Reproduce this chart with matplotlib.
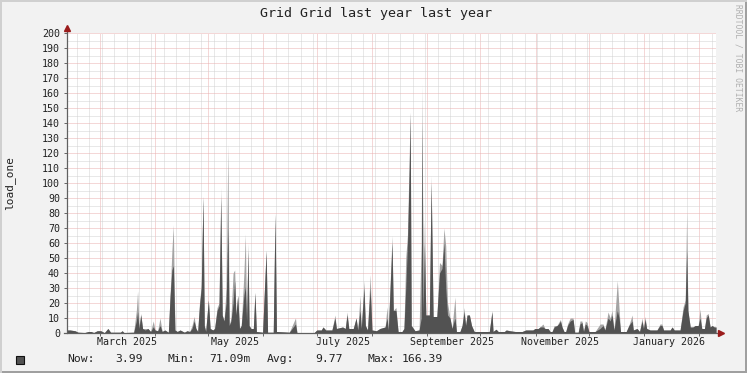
import numpy as np
import matplotlib
matplotlib.use("Agg")
import matplotlib.pyplot as plt
import matplotlib.dates as mdates
from matplotlib.ticker import NullFormatter, MultipleLocator
from matplotlib.patches import Rectangle

plt.rcParams['font.family'] = ['DejaVu Sans Mono']

# ---- data ----
title = "Grid Grid last year last year"
y_label = "load_one"
start = np.datetime64('2025-02-10T12:00')
end = np.datetime64('2026-02-10T12:00')

# days after start, average (dark) and peak (faded) values
days = [0, 1.7, 4.5, 6.2, 10, 12, 13.5, 15, 17, 19, 21, 23, 24.5, 30, 31, 32, 37.5,
        39, 39.7, 40.5, 41.5, 42.5, 44, 45.5, 47, 48.5, 49.5, 51, 52.3, 53.5, 55, 57,
        58, 59, 59.8, 60.7, 62, 63.6, 66, 67.5, 69, 70.3, 71.5, 72.5, 73.5, 74.5, 75.5,
        76.5, 77.2, 78, 79.5, 80.5, 82, 83, 84.4, 85.5, 86.5, 87.3, 88.3, 89.5, 90.5,
        91.2, 92.2, 93.4, 94.3, 95, 96, 97, 98, 99.5, 100.3, 101, 101.8, 102.4, 103.5,
        104.8, 105.7, 106.5, 110, 112, 112.8, 116, 117, 117.8, 125, 128.5, 129.3, 139,
        140.5, 143, 144, 145.5, 149, 150.7, 151.5, 155, 156.5, 157.5, 158.5, 161, 162.6,
        163.5, 164.8, 165.5, 167, 167.8, 169, 170.5, 171.5, 174, 176, 178.9, 180, 180.7,
        182.8, 183.5, 185, 186.2, 188.4, 189.5, 190.5, 191.5, 192.5, 193, 193.6, 195.7,
        198, 199.2, 199.7, 200.3, 201, 201.8, 203.8, 204.8, 205.9, 208, 209.5, 210.9,
        212, 213, 214, 215.4, 216.5, 218.2, 219, 221, 222.2, 223.3, 224.2, 225, 226.3,
        227.5, 229, 237.5, 239, 239.6, 241.3, 242.5, 246, 247, 249, 252, 256, 258, 262,
        263.2, 265, 266, 267.7, 268.8, 270.5, 271.7, 272.8, 274, 275.6, 276.5, 277.5,
        278.4, 279.5, 280.5, 281.5, 283, 284.6, 285.5, 287.5, 288.5, 289.6, 290.5, 291.5,
        292.5, 293.5, 297, 299.8, 301.5, 302.5, 304.3, 305.5, 306.5, 307.6, 309.5, 310.5,
        311.3, 314.5, 316, 317.8, 318.5, 320.6, 322, 323.4, 324.2, 325.1, 326, 327.9,
        331.8, 333.5, 334.6, 335.5, 339.2, 340.3, 341.5, 344.8, 346.5, 347.7, 348.5,
        349.2, 350.5, 352, 353.3, 355, 356, 357, 358.5, 359.5, 360.6, 361.7, 362.8, 364,
        365]
load_avg = [2, 2, 1.5, 0.5, 0.3, 1, 1, 0.3, 1.5, 1.5, 0.2, 3, 0.5, 0.5, 1.5, 0.3, 0.5,
            8, 14, 3, 12, 3, 2, 3, 1, 4, 2, 1.5, 5, 1, 2, 0.5,
            25, 42, 45, 2, 1, 2, 0.5, 1.5, 1, 3, 8, 3, 1, 18, 30,
            91, 5, 1, 22, 3, 2, 3, 15, 18, 90, 12, 8, 20, 70,
            5, 8, 20, 35, 12, 25, 3, 5, 25, 31, 8, 55, 5, 3,
            3, 27, 1, 0.5, 55, 0.5, 0.5, 79, 1, 0.5, 6, 0.3, 0.3,
            2, 2, 4, 2, 2, 10, 3, 4, 3, 12, 3, 3, 10,
            2, 15, 3, 30, 5, 2, 30, 2, 1.5, 3, 4, 10, 2,
            60, 15, 15, 1, 1, 3, 30, 60, 110, 147, 5, 1.5,
            2, 10, 140, 13, 60, 12, 12, 100, 11, 11, 40, 43,
            60, 30, 12, 10, 3, 10, 1, 1, 5, 14, 5, 12, 12,
            5, 1, 1, 14, 1, 2.5, 1, 1, 2, 1.5, 1, 1, 2, 2,
            3, 3, 4, 4, 3, 3, 1, 1, 4, 5, 6, 8,
            4, 1, 1, 5, 8, 9, 0.5, 0.5, 6, 7, 1, 6,
            5, 1, 1, 3, 5, 2, 10, 8, 12, 2, 15, 10,
            1, 1, 5, 8, 2, 3, 1, 8, 3, 9, 3, 2,
            2, 5, 5, 2, 2, 4, 2, 2, 15, 20, 55,
            15, 4, 4, 5, 5, 10, 3, 3, 10, 12, 4, 5, 4,
            3.99]
load_peak = [2, 2, 1.5, 0.5, 0.3, 1, 1, 0.3, 1.5, 1.5, 0.2, 3, 0.5, 0.5, 1.5, 0.3, 0.5,
             15, 28, 5, 13, 3, 3, 3, 1, 8, 2, 1.5, 10, 1, 2, 0.5,
             26, 55, 72, 2, 1, 2, 0.5, 1.5, 1, 5, 11, 3, 1, 20, 32,
             91, 5, 1, 22, 3, 2, 3, 17, 20, 97, 12, 8, 30, 126,
             5, 10, 40, 42, 12, 25, 3, 5, 40, 66, 8, 60, 5, 3,
             3, 27, 1, 0.5, 55, 0.5, 0.5, 80, 1, 0.5, 10, 0.3, 0.3,
             2, 2, 4, 2, 2, 12, 3, 4, 3, 14, 3, 3, 10,
             2, 25, 3, 35, 5, 2, 39, 2, 1.5, 3, 4, 17.5, 2,
             65, 15, 17, 1, 1, 3, 50, 66, 120, 147, 5, 1.5,
             2, 60, 166, 13, 75, 12, 12, 105, 11, 11, 47, 45,
             70, 58, 20, 10, 3, 24, 1, 1, 5, 17, 5, 12, 12,
             5, 1, 1, 15, 1, 2.5, 1, 1, 2, 1.5, 1, 1, 2, 2,
             3, 3, 4, 6, 3, 3, 1, 1, 5, 5, 7, 9,
             4, 1, 1, 6, 10, 10, 0.5, 0.5, 8, 8, 1, 8,
             7, 1, 1, 6, 6, 2, 14, 10, 15, 2, 35, 16,
             1, 1, 5, 12, 2, 3, 1, 10, 3, 11, 3, 2,
             2, 6, 6, 2, 2, 4, 2, 2, 17.5, 22, 80,
             15, 4, 4, 5, 5, 16, 3, 3, 12, 13, 4, 5, 4,
             3.99]

month_labels = ['March 2025', 'May 2025', 'July 2025', 'September 2025',
                'November 2025', 'January 2026']
month_label_dates = ['2025-03-16', '2025-05-16', '2025-07-16', '2025-09-15',
                     '2025-11-15', '2026-01-15']
legend_names = ['Now:', 'Min:', 'Avg:', 'Max:']
legend_values = ['3.99', '71.09m', '9.77', '166.39']

# ---- figure ----
W, H = 747, 373
fig = plt.figure(figsize=(W / 100, H / 100), dpi=100, facecolor='#f2f2f2')


def fx(px):
    return px / W


def fy(py):
    return 1 - py / H


# 3d frame
fig.add_artist(Rectangle((0, 0), 1, fy(371), transform=fig.transFigure, color='#a0a0a0', lw=0))
fig.add_artist(Rectangle((fx(745), 0), fx(2), 1, transform=fig.transFigure, color='#a0a0a0', lw=0))
fig.add_artist(Rectangle((0, fy(2)), 1, fy(371), transform=fig.transFigure, color='#d0d0d0', lw=0))
fig.add_artist(Rectangle((0, 0), fx(2), 1, transform=fig.transFigure, color='#d0d0d0', lw=0))

ax = fig.add_axes([fx(67), fy(333), (716 - 67) / W, 300 / H])
ax.set_facecolor('white')

t = start + (np.array(days) * 86400).astype('timedelta64[s]')
ax.fill_between(t, load_peak, color='#a4a4a4', lw=0, zorder=2)
ax.fill_between(t, load_avg, color='#525252', lw=0, zorder=3)

ax.set_xlim(start, end)
ax.set_ylim(0, 200)

ax.yaxis.set_major_locator(MultipleLocator(10))
ax.yaxis.set_minor_locator(MultipleLocator(5))
ax.xaxis.set_major_locator(mdates.MonthLocator())
ax.xaxis.set_minor_locator(mdates.WeekdayLocator(byweekday=mdates.SU))
ax.xaxis.set_major_formatter(NullFormatter())

ax.set_axisbelow(True)
ax.grid(which='minor', color='#d2d2d2', ls=(0, (1, 1)), lw=0.72)
ax.grid(which='major', color='#eab0b0', ls=(0, (1, 1)), lw=0.72)
ax.tick_params(which='major', direction='out', length=2, width=0.7, color='#666666',
               labelsize=7.2, labelcolor='#222222', pad=3)
ax.tick_params(which='minor', length=0)

for s in ax.spines.values():
    s.set_visible(False)

# axis lines with arrows
ax.plot([0, 0], [0, 1 + 4 / 300], transform=ax.transAxes, color='#606060', lw=0.9,
        clip_on=False, zorder=5)
ax.plot([-3 / 649, 1 + 3 / 649], [0, 0], transform=ax.transAxes, color='#606060', lw=0.9,
        clip_on=False, zorder=5)
ax.plot(0, 1 + 5 / 300, marker='^', ms=4, color='#9b1c1c', transform=ax.transAxes,
        clip_on=False, zorder=6)
ax.plot(1 + 5 / 649, 0, marker='>', ms=4, color='#9b1c1c', transform=ax.transAxes,
        clip_on=False, zorder=6)

for lab, d in zip(month_labels, month_label_dates):
    ax.text(np.datetime64(d), -9 / 300, lab, transform=ax.get_xaxis_transform(),
            ha='center', va='center', fontsize=7.2, color='#222222')

fig.text(fx(376), fy(13.5), title, ha='center', va='center', fontsize=9.6, color='#222222')
fig.text(fx(10), fy(183), y_label, ha='center', va='center', rotation=90, fontsize=8,
         color='#222222')
fig.text(fx(738), fy(4), 'RRDTOOL / TOBI OETIKER', ha='center', va='top', rotation=270,
         fontsize=5.8, color='#b0b0b0')

# legend
fig.add_artist(Rectangle((fx(15.5), fy(363.5)), fx(8), 8 / H, transform=fig.transFigure,
                         facecolor='#525252', edgecolor='#111111', lw=0.8))
name_x = [67, 167, 267, 367]
value_x = [143, 250, 343, 443]
for n, v, nx, vx in zip(legend_names, legend_values, name_x, value_x):
    fig.text(fx(nx), fy(359), n, ha='left', va='center', fontsize=8.2, color='#222222')
    fig.text(fx(vx), fy(359), v, ha='right', va='center', fontsize=8.2, color='#222222')

fig.savefig('out.png', dpi=100, facecolor=fig.get_facecolor())
